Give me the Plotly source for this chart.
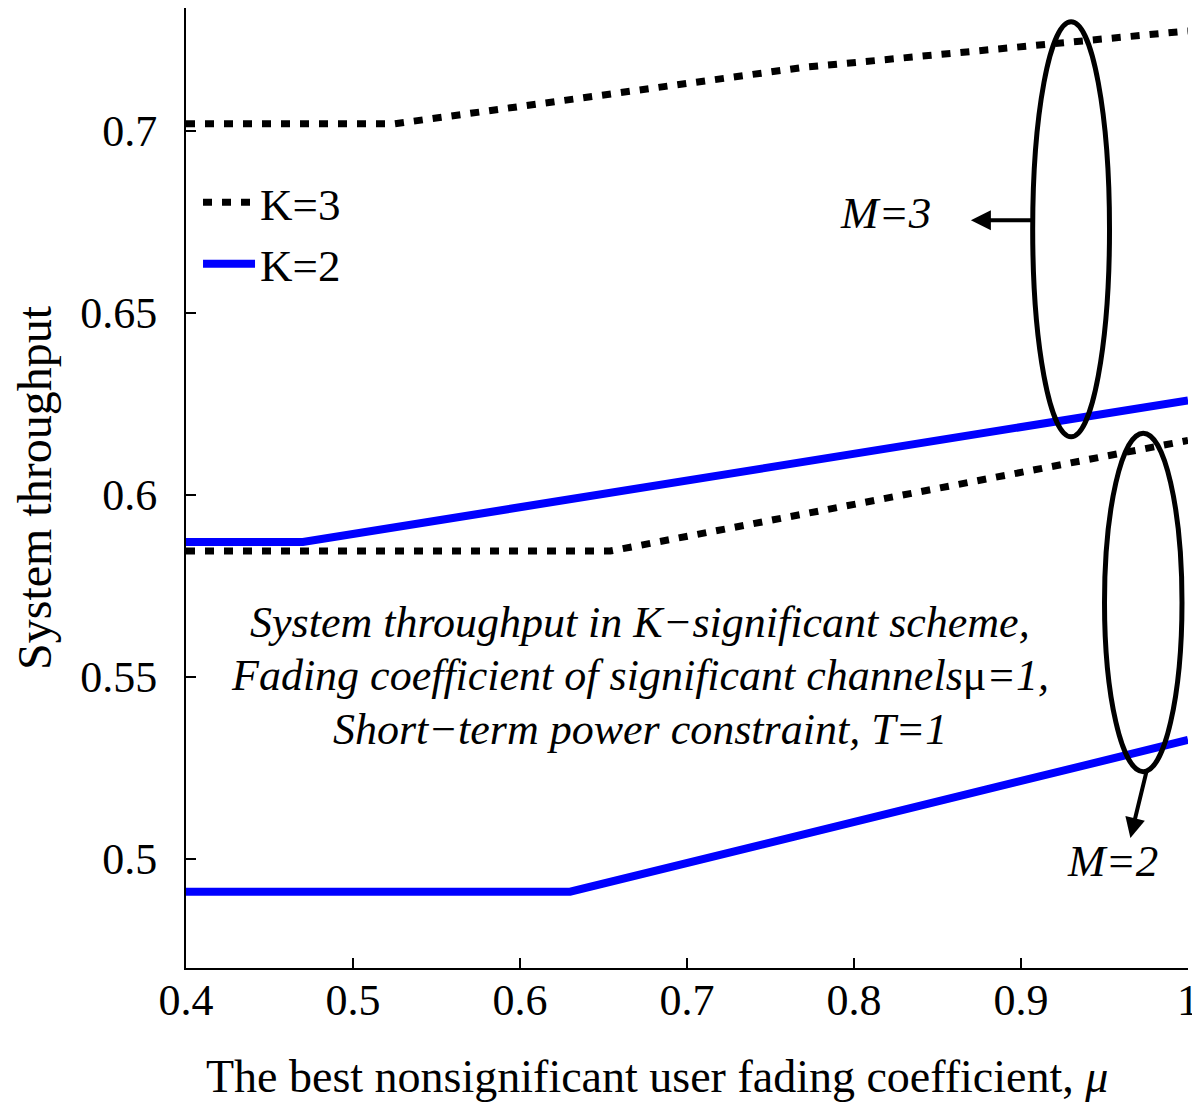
import plotly.graph_objects as go

# Data
x_k3_m3 = [0.4, 0.525, 0.77, 1.0]
y_k3_m3 = [0.702, 0.702, 0.7175, 0.7275]
x_k2_m3 = [0.4, 0.47, 1.0]
y_k2_m3 = [0.5871, 0.5871, 0.626]
x_k3_m2 = [0.4, 0.654, 1.0]
y_k3_m2 = [0.5846, 0.5846, 0.615]
x_k2_m2 = [0.4, 0.63, 1.0]
y_k2_m2 = [0.491, 0.491, 0.5327]

x_ticks = [0.4, 0.5, 0.6, 0.7, 0.8, 0.9, 1.0]
x_ticklabels = ["0.4", "0.5", "0.6", "0.7", "0.8", "0.9", "1"]
y_ticks = [0.5, 0.55, 0.6, 0.65, 0.7]
y_ticklabels = ["0.5", "0.55", "0.6", "0.65", "0.7"]

note_lines = [
    "<i>System throughput in K−significant scheme,</i>",
    "<i>Fading coefficient of significant channels</i>μ<i>=1,</i>",
    "<i>Short−term power constraint, T=1</i>",
]
note_y = [0.5651, 0.5503, 0.5355]

FONT = "Liberation Serif"
BLUE = "#0000ff"

fig = go.Figure()
dot = dict(color="black", width=7, dash="9px,10px")
solid = dict(color=BLUE, width=8)
fig.add_trace(go.Scatter(x=x_k3_m3, y=y_k3_m3, mode="lines", line=dot, name="K=3"))
fig.add_trace(go.Scatter(x=x_k2_m3, y=y_k2_m3, mode="lines", line=solid, name="K=2"))
fig.add_trace(go.Scatter(x=x_k3_m2, y=y_k3_m2, mode="lines", line=dot, showlegend=False))
fig.add_trace(go.Scatter(x=x_k2_m2, y=y_k2_m2, mode="lines", line=solid, showlegend=False))

# Ellipses
fig.add_shape(type="circle", xref="x", yref="y", x0=0.907, x1=0.953, y0=0.616, y1=0.730,
              line=dict(color="black", width=5))
fig.add_shape(type="circle", xref="x", yref="y", x0=0.950, x1=0.9964, y0=0.524, y1=0.617,
              line=dict(color="black", width=5))

# Arrows
fig.add_annotation(x=0.870, y=0.6755, ax=0.907, ay=0.6755, xref="x", yref="y", axref="x", ayref="y",
                   text="", showarrow=True, arrowhead=2, arrowsize=1, arrowwidth=4, arrowcolor="black")
fig.add_annotation(x=0.9655, y=0.5058, ax=0.9754, ay=0.5245, xref="x", yref="y", axref="x", ayref="y",
                   text="", showarrow=True, arrowhead=2, arrowsize=1, arrowwidth=4, arrowcolor="black")

# Labels
fig.add_annotation(x=0.8186, y=0.6775, xref="x", yref="y", text="<i>M=3</i>", showarrow=False,
                   font=dict(family=FONT, size=45, color="black"))
fig.add_annotation(x=0.955, y=0.4995, xref="x", yref="y", text="<i>M=2</i>", showarrow=False,
                   font=dict(family=FONT, size=45, color="black"))
for txt, yy in zip(note_lines, note_y):
    fig.add_annotation(x=0.672, y=yy, xref="x", yref="y", text=txt, showarrow=False,
                       font=dict(family=FONT, size=44, color="black"))

# X-axis title (slightly left of centre, as in the original)
fig.add_annotation(x=0.018, y=-0.113, xref="paper", yref="paper", xanchor="left", yanchor="middle",
                   text="The best nonsignificant user fading coefficient, <i>μ</i>", showarrow=False,
                   font=dict(family=FONT, size=46, color="black"))

fig.update_layout(
    width=1192, height=1097,
    paper_bgcolor="white", plot_bgcolor="white",
    margin=dict(l=178, r=12, t=0, b=137),
    font=dict(family=FONT, size=44, color="black"),
    showlegend=True,
    legend=dict(x=0.012, y=0.835, xanchor="left", yanchor="top", bgcolor="rgba(0,0,0,0)",
                font=dict(family=FONT, size=45), tracegroupgap=0, itemwidth=52),
    xaxis=dict(range=[0.4, 1.0], tickvals=x_ticks, ticktext=x_ticklabels, automargin=False,
               showgrid=False, zeroline=False, showline=True, linecolor="black", linewidth=2,
               ticks="inside", ticklen=10, tickwidth=2, tickcolor="black",
               tickfont=dict(family=FONT, size=44), ticklabelstandoff=-8),
    yaxis=dict(range=[0.47005, 0.7338], tickvals=y_ticks, ticktext=y_ticklabels, automargin=False,
               showgrid=False, zeroline=False, showline=True, linecolor="black", linewidth=2,
               ticks="inside", ticklen=10, tickwidth=2, tickcolor="black",
               tickfont=dict(family=FONT, size=44), ticklabelstandoff=18,
               title=dict(text="System throughput", font=dict(family=FONT, size=48), standoff=36)),
)

fig.write_html("out.html")
